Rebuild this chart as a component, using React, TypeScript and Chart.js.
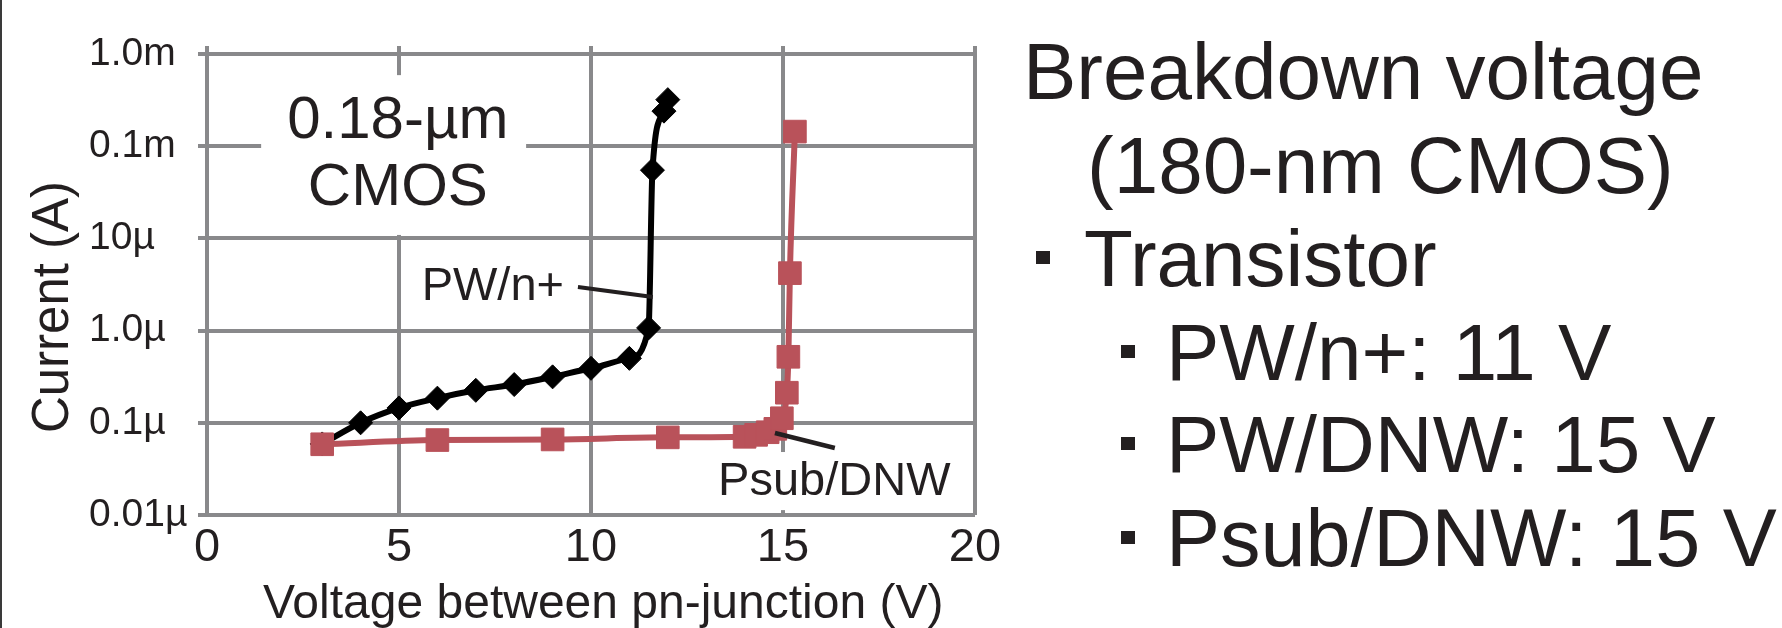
import { useEffect, useRef } from 'react';
import { Chart, registerables } from 'chart.js';

Chart.register(...registerables);

// ---- data ----
const pwnVoltage = [3, 4, 5, 6, 7, 8, 9, 10, 11, 11.5, 11.6, 11.9, 12.0];
const pwnCurrent = [5.9e-8, 1.0e-7, 1.45e-7, 1.85e-7, 2.25e-7, 2.6e-7, 3.15e-7, 3.9e-7, 5.0e-7, 1.07e-6, 5.5e-5, 2.4e-4, 3.2e-4];

const psubVoltage = [3, 6, 9, 12, 14, 14.3, 14.6, 14.8, 14.97, 15.1, 15.14, 15.18, 15.31];
const psubCurrent = [5.85e-8, 6.5e-8, 6.6e-8, 6.95e-8, 7.05e-8, 7.4e-8, 7.9e-8, 8.6e-8, 1.12e-7, 2.12e-7, 5.2e-7, 4.2e-6, 1.44e-4];

const xTickValues = [0, 5, 10, 15, 20];
const yTickValues = [1e-8, 1e-7, 1e-6, 1e-5, 1e-4, 1e-3];
const yTickLabels = ['0.01µ', '0.1µ', '1.0µ', '10µ', '0.1m', '1.0m'];

const xTitle = 'Voltage between pn-junction (V)';
const yTitle = 'Current (A)';
const insetLines = ['0.18-µm', 'CMOS'];
const seriesLabels = ['PW/n+', 'Psub/DNW'];
const panelLines = ['Breakdown voltage', '(180-nm CMOS)', 'Transistor', 'PW/n+: 11 V', 'PW/DNW: 15 V', 'Psub/DNW: 15 V'];

const FONT = "'Liberation Sans', Arial, sans-serif";
const INK = '#231F20';
const GRID = '#89898B';
const RED = '#B9525A';

const overlay = {
  id: 'overlay',
  beforeDatasetsDraw(chart: any) {
    const { ctx, scales } = chart;
    const x = scales.x;
    const y = scales.y;
    const px = (v: number) => x.getPixelForValue(v);
    const py = (v: number) => y.getPixelForValue(v);
    ctx.save();
    ctx.fillStyle = '#ffffff';
    // white background of the inset text
    ctx.fillRect(px(1.41), py(5.9e-4), px(8.31) - px(1.41), py(1.09e-5) - py(5.9e-4));
    // white background of the Psub/DNW label
    ctx.fillRect(px(13.23), py(4.82e-8), px(19.6) - px(13.23), py(1.13e-8) - py(4.82e-8));

    ctx.fillStyle = INK;
    ctx.textBaseline = 'alphabetic';
    ctx.font = `60px ${FONT}`;
    ctx.textAlign = 'center';
    ctx.fillText(insetLines[0], px(4.97), py(1.22e-4));
    ctx.fillText(insetLines[1], px(4.97), py(2.3e-5));

    ctx.textAlign = 'left';
    ctx.font = `47px ${FONT}`;
    ctx.fillText(seriesLabels[0], px(5.59), py(2.15e-6));
    ctx.font = `47px ${FONT}`;
    ctx.fillText(seriesLabels[1], px(13.31), py(1.65e-8));
    ctx.restore();
  },
  afterDatasetsDraw(chart: any) {
    const { ctx, scales } = chart;
    const x = scales.x;
    const y = scales.y;
    const px = (v: number) => x.getPixelForValue(v);
    const py = (v: number) => y.getPixelForValue(v);
    ctx.save();
    ctx.strokeStyle = INK;
    ctx.lineCap = 'butt';
    ctx.lineWidth = 4;
    ctx.beginPath();
    ctx.moveTo(px(9.66), py(2.97e-6));
    ctx.lineTo(px(11.61), py(2.31e-6));
    ctx.stroke();
    ctx.lineWidth = 4.5;
    ctx.beginPath();
    ctx.moveTo(px(14.79), py(7.75e-8));
    ctx.lineTo(px(16.35), py(5.33e-8));
    ctx.stroke();
    ctx.restore();
  },
  afterDraw(chart: any) {
    const { ctx } = chart;
    ctx.save();
    // left page border
    ctx.fillStyle = '#3A3A3A';
    ctx.fillRect(0, 0, 2, chart.height);

    ctx.fillStyle = INK;
    ctx.textBaseline = 'alphabetic';
    // axis titles
    ctx.font = `48px ${FONT}`;
    ctx.textAlign = 'left';
    ctx.fillText(xTitle, 263, 618);
    ctx.save();
    ctx.translate(68, 307);
    ctx.rotate(-Math.PI / 2);
    ctx.font = `51px ${FONT}`;
    ctx.textAlign = 'center';
    ctx.fillText(yTitle, 0, 0);
    ctx.restore();

    // right-hand panel
    ctx.textAlign = 'left';
    const sizes = [80, 80, 80, 80, 80, 81];
    const baselines = [99, 193, 286, 380, 472, 566];
    const lefts = [1023, 1087, 1084, 1166, 1166, 1166];
    const bullets = [null, null, 1036, 1121, 1121, 1121];
    panelLines.forEach((t, i) => {
      ctx.font = `${sizes[i]}px ${FONT}`;
      ctx.fillText(t, lefts[i], baselines[i]);
      const b = bullets[i];
      if (b !== null) ctx.fillRect(b, baselines[i] - 35, 14, 13);
    });
    ctx.restore();
  },
};

export default function App() {
  const ref = useRef<HTMLCanvasElement | null>(null);
  useEffect(() => {
    document.body.style.margin = '0';
    Chart.defaults.font.family = FONT;
    const canvas = ref.current!;
    const yLabel = (v: number) => {
      const i = yTickValues.findIndex((t) => Math.abs(Math.log10(t) - Math.log10(v)) < 1e-6);
      return i >= 0 ? yTickLabels[i] : '';
    };
    const chart = new Chart(canvas, {
      type: 'line',
      data: {
        datasets: [
          {
            label: seriesLabels[1],
            data: psubVoltage.map((v, i) => ({ x: v, y: psubCurrent[i] })),
            borderColor: RED,
            backgroundColor: RED,
            pointBackgroundColor: RED,
            pointBorderColor: RED,
            pointStyle: 'rect',
            pointRadius: 16,
            pointBorderWidth: 1,
            borderWidth: 6,
            cubicInterpolationMode: 'monotone',
            order: 0,
          },
          {
            label: seriesLabels[0],
            data: pwnVoltage.map((v, i) => ({ x: v, y: pwnCurrent[i] })),
            borderColor: '#000000',
            backgroundColor: '#000000',
            pointBackgroundColor: '#000000',
            pointBorderColor: '#000000',
            pointStyle: 'rectRot',
            pointRadius: 12,
            pointBorderWidth: 1,
            borderWidth: 6,
            cubicInterpolationMode: 'monotone',
            order: 1,
          },
        ],
      } as any,
      options: {
        responsive: false,
        animation: false,
        events: [],
        layout: { padding: { left: 89, right: 807, top: 46, bottom: 0 } },
        plugins: { legend: { display: false }, tooltip: { enabled: false } },
        scales: {
          x: {
            type: 'linear',
            position: 'bottom',
            min: 0,
            max: 20,
            afterBuildTicks: (s: any) => {
              s.ticks = xTickValues.map((v) => ({ value: v }));
            },
            afterFit: (s: any) => {
              s.height = 113;
            },
            grid: { color: GRID, lineWidth: 4, drawTicks: false },
            border: { display: false },
            ticks: { font: { size: 47 }, color: INK, padding: 5, maxRotation: 0 },
          },
          xTop: {
            type: 'linear',
            position: 'top',
            min: 0,
            max: 20,
            afterBuildTicks: (s: any) => {
              s.ticks = xTickValues.map((v) => ({ value: v }));
            },
            afterFit: (s: any) => {
              s.height = 8;
            },
            grid: { color: GRID, lineWidth: 4, drawOnChartArea: false, drawTicks: true, tickLength: 8 },
            border: { display: false },
            ticks: { display: false },
          },
          y: {
            type: 'logarithmic',
            min: 1e-8,
            max: 1e-3,
            afterBuildTicks: (s: any) => {
              s.ticks = yTickValues.map((v) => ({ value: v }));
            },
            afterFit: (s: any) => {
              s.width = 118;
            },
            grid: { color: GRID, lineWidth: 4, drawTicks: true, tickLength: 9 },
            border: { display: false },
            ticks: {
              font: { size: 39 },
              color: INK,
              crossAlign: 'far',
              callback: (v: any) => yLabel(Number(v)),
            },
          },
        },
      } as any,
      plugins: [overlay],
    });
    return () => chart.destroy();
  }, []);
  return (
    <div style={{ width: 1782, height: 628, background: '#ffffff' }}>
      <canvas ref={ref} width={1782} height={628} style={{ display: 'block', width: 1782, height: 628 }} />
    </div>
  );
}
